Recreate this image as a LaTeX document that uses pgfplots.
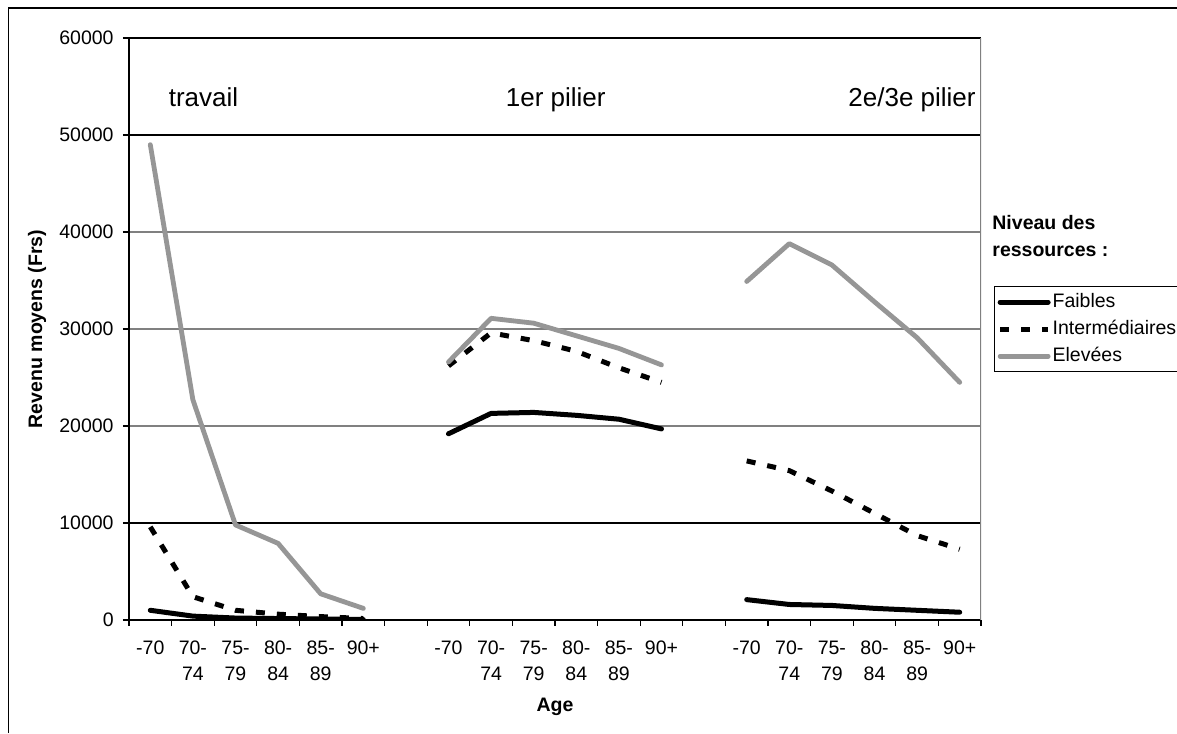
\documentclass[border=0pt]{standalone}
\usepackage{fontspec}
\setmainfont{Liberation Sans}
\usepackage{pgfplots}
\pgfplotsset{compat=1.18}
\definecolor{serieGray}{RGB}{150,150,150}
\definecolor{gridGray}{RGB}{128,128,128}
\newcommand{\tickfont}{\fontsize{9.75}{12.5}\selectfont}
\newcommand{\tl}[2]{\begin{tabular}[t]{@{}c@{}}#1\\#2\end{tabular}}
\begin{document}
\begin{tikzpicture}
\useasboundingbox (0,0) rectangle (588.5pt,366.5pt);
\fill[white] (0,0) rectangle (588.5pt,366.5pt);
\draw[line width=0.8pt] (4.15pt,0) -- (4.15pt,362.35pt) -- (590pt,362.35pt);
\begin{axis}[
  at={(64.5pt,56.5pt)}, anchor=south west,
  scale only axis, width=426pt, height=291pt,
  xmin=-0.5, xmax=19.5, ymin=0, ymax=60000,
  axis lines*=left,
  axis line style={line width=0.8pt, -},
  tick align=outside,
  xtick={0,1,2,3,4,5,7,8,9,10,11,12,14,15,16,17,18,19},
  xticklabels={-70,\tl{70-}{74},\tl{75-}{79},\tl{80-}{84},\tl{85-}{89},90+,
               -70,\tl{70-}{74},\tl{75-}{79},\tl{80-}{84},\tl{85-}{89},90+,
               -70,\tl{70-}{74},\tl{75-}{79},\tl{80-}{84},\tl{85-}{89},90+},
  major x tick style={draw=none},
  minor xtick={-0.5,0.5,...,19.5},
  minor tick length=3pt,
  minor x tick style={black, line width=0.6pt},
  major tick length=3pt,
  major y tick style={black, line width=0.6pt},
  ytick={20000,30000,40000},
  extra y ticks={0,10000,50000,60000},
  scaled y ticks=false,
  ymajorgrids,
  major grid style={gridGray, line width=0.6pt},
  extra y tick style={ymajorgrids=true, major grid style={black, line width=0.6pt}},
  /pgf/number format/.cd, 1000 sep={}, assume math mode=true, /pgfplots/.cd,
  tick label style={font=\tickfont},
  xticklabel style={anchor=base, inner sep=0pt, yshift=-14.5pt},
  yticklabel style={anchor=east, inner sep=0pt, xshift=-4.5pt},
  xlabel={Age},
  ylabel={Revenu moyens (Frs)},
  label style={font=\tickfont\bfseries},
  xlabel style={at={(axis description cs:0.5,-0.1495)}, anchor=center},
  ylabel style={at={(axis description cs:-0.108,0.5)}, anchor=center},
  unbounded coords=jump,
  legend style={at={(rel axis cs:1.0153,0.574)}, anchor=north west,
    draw=black, line width=0.6pt, font=\tickfont,
    inner xsep=1.5pt, inner ysep=3.3pt, row sep=4.5pt, column sep=0pt,
    nodes={inner xsep=1pt, inner ysep=0pt, text height=7pt, text depth=2pt}},
  legend cell align=left,
  legend image code/.code={\draw[#1] (0pt,0pt) -- (24pt,0pt);},
]
\addplot[black, line width=2.5pt, line cap=round, line join=round] coordinates {
 (0,1000) (1,400) (2,200) (3,150) (4,100) (5,50) (6,nan)
 (7,19200) (8,21300) (9,21400) (10,21100) (11,20700) (12,19700) (13,nan)
 (14,2100) (15,1600) (16,1500) (17,1200) (18,1000) (19,800)};
\addplot[black, line width=2.5pt, dash pattern=on 4.5pt off 6pt, line join=round] coordinates {
 (0,9600) (1,2400) (2,1000) (3,600) (4,350) (5,150) (6,nan)
 (7,26200) (8,29600) (9,28800) (10,27700) (11,26000) (12,24500) (13,nan)
 (14,16400) (15,15400) (16,13300) (17,11000) (18,8700) (19,7300)};
\addplot[serieGray, line width=2.4pt, line cap=round, line join=round] coordinates {
 (0,49000) (1,22700) (2,9800) (3,7900) (4,2700) (5,1200) (6,nan)
 (7,26600) (8,31100) (9,30600) (10,29300) (11,28000) (12,26300) (13,nan)
 (14,34900) (15,38800) (16,36600) (17,32800) (18,29100) (19,24500)};
\legend{Faibles,Intermédiaires,Elevées}
\draw[black, line width=0.8pt] (rel axis cs:0,1) -- (rel axis cs:1,1);
\draw[gridGray, line width=0.8pt] (rel axis cs:1,0) -- (rel axis cs:1,1);
\end{axis}
\node[anchor=base west, inner sep=0pt, font=\fontsize{13}{15}\selectfont] at (84.2pt,313.25pt) {travail};
\node[anchor=base west, inner sep=0pt, font=\fontsize{13}{15}\selectfont] at (252.75pt,313.25pt) {1er pilier};
\node[anchor=base west, inner sep=0pt, font=\fontsize{13}{15}\selectfont] at (424pt,313.1pt) {2e/3e pilier};
\node[anchor=base west, inner sep=0pt, font=\tickfont\bfseries] at (496pt,251.85pt) {Niveau des};
\node[anchor=base west, inner sep=0pt, font=\tickfont\bfseries] at (496pt,238.15pt) {ressources :};
\end{tikzpicture}
\end{document}
